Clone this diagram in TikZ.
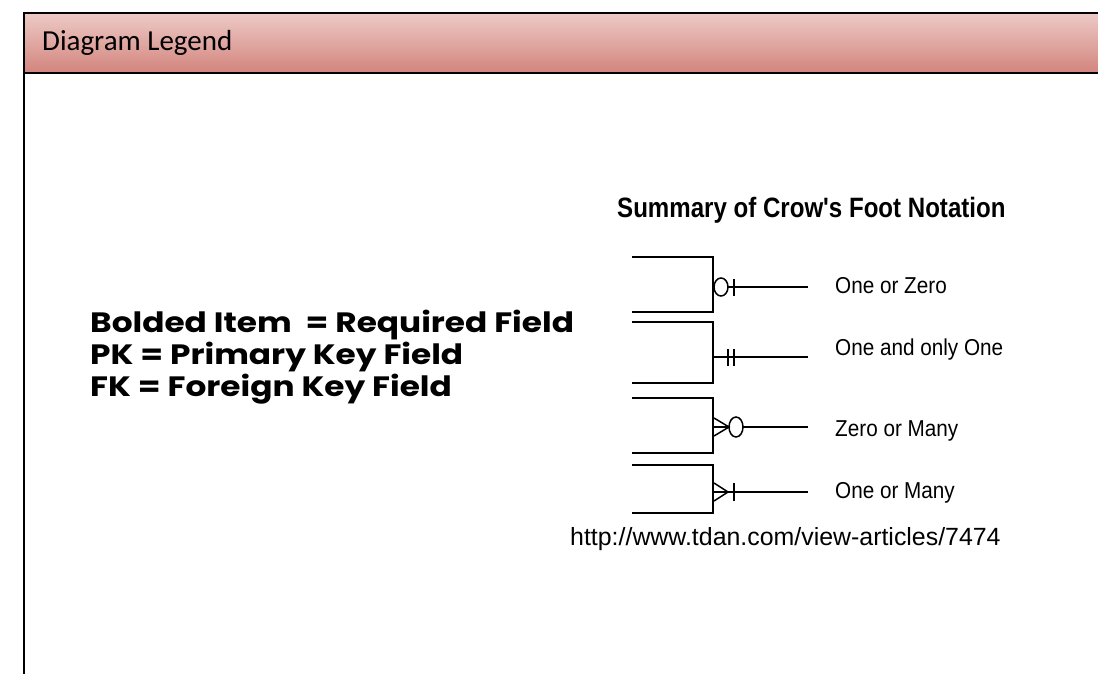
\documentclass[tikz,border=0pt]{standalone}
\usepackage{fontspec}
\newfontfamily\headfont{Carlito}
\newfontfamily\keyfont[FakeStretch=1.17]{Poppins}
\newfontfamily\notefont{Liberation Sans}
\newfontfamily\cardfont[FakeStretch=0.9]{Liberation Sans}
\newfontfamily\titlefont[FakeStretch=0.86]{Liberation Sans}
\usetikzlibrary{positioning,calc}
\definecolor{headtop}{HTML}{EDCAC6}
\definecolor{headbottom}{HTML}{D3847D}
\tikzset{
    x=1pt,
    y=-1pt,
    frame/.style = {
        draw,
        line width=1.8pt
    },
    header/.style = {
        draw,
        line width=1.8pt,
        top color=headtop,
        bottom color=headbottom
    },
    entity/.style = {
        draw,
        line width=1.7pt
    },
    crow/.style = {
        draw,
        line width=1.5pt
    },
    keytext/.style = {
        anchor=base west,
        inner sep=0pt,
        font=\keyfont\bfseries\fontsize{28}{32}\selectfont
    },
    cardtext/.style = {
        anchor=base west,
        inner sep=0pt,
        font=\cardfont\fontsize{23}{26}\selectfont
    }
}

\begin{document}
\begin{tikzpicture}
            \useasboundingbox (0,0) rectangle (1098,674);
            \path[header] (24,13) rectangle (1100,73);
            \path[frame] (24,13) -- (24,676);
            \node[anchor=base west, inner sep=0pt, font=\headfont\fontsize{29}{32}\selectfont] (legend) at (42,51) {Diagram Legend};

            \node[keytext] (required) at (90,332) {Bolded Item\ \ = Required Field};
            \node[keytext] (primary) at (90,364) {PK = Primary Key Field};
            \node[keytext] (foreign) at (90,396) {FK = Foreign Key Field};

            \node[anchor=base west, inner sep=0pt, font=\titlefont\bfseries\fontsize{28}{32}\selectfont] (summary) at (617,217) {Summary of Crow's Foot Notation};

            \coordinate (one0) at (713,287);
            \coordinate (one1) at (713,357);
            \coordinate (many0) at (713,427);
            \coordinate (many1) at (713,492);

            \node[cardtext] (onezero) at (835,293) {One or Zero};
            \node[cardtext] (oneone) at (835,355) {One and only One};
            \node[cardtext] (zeromany) at (835,436) {Zero or Many};
            \node[cardtext] (onemany) at (835,498) {One or Many};
            \node[anchor=base west, inner sep=0pt, font=\notefont\fontsize{24.9}{28}\selectfont] (source) at (570,545) {http://www.tdan.com/view-articles/7474};

            \path[entity] (632,257) -| (713,312) -- (632,312);
            \path[entity] (632,322) -| (713,383) -- (632,383);
            \path[entity] (632,398) -| (713,453) -- (632,453);
            \path[entity] (632,465) -| (713,513) -- (632,513);

            \path[crow] ($(one0)+(15,0)$) -- ($(onezero.base west)+(-27,-6)$);
            \path[crow] ($(one0)+(8,0)$) ellipse [x radius=7, y radius=9];
            \path[crow] ($(one0)+(21,-8)$) -- ($(one0)+(21,9)$);

            \path[crow] (one1) -- ($(oneone.base west)+(-27,2)$);
            \path[crow] ($(one1)+(15,-8)$) -- ($(one1)+(15,9)$);
            \path[crow] ($(one1)+(21,-8)$) -- ($(one1)+(21,9)$);

            \path[crow] ($(many0)+(30,0)$) -- ($(zeromany.base west)+(-27,-9)$);
            \path[crow] ($(many0)+(23,0)$) ellipse [x radius=7, y radius=10];
            \path[crow] ($(many0)+(1,-9)$) -- ($(many0)+(16,0)$) -- ($(many0)+(1,9)$);
            \path[crow] (many0) -- ($(many0)+(16,0)$);

            \path[crow] (many1) -- ($(onemany.base west)+(-27,-6)$);
            \path[crow] ($(many1)+(1,-9)$) -- ($(many1)+(15,0)$) -- ($(many1)+(1,9)$);
            \path[crow] ($(many1)+(21,-9)$) -- ($(many1)+(21,9)$);

        \end{tikzpicture}
\end{document}
